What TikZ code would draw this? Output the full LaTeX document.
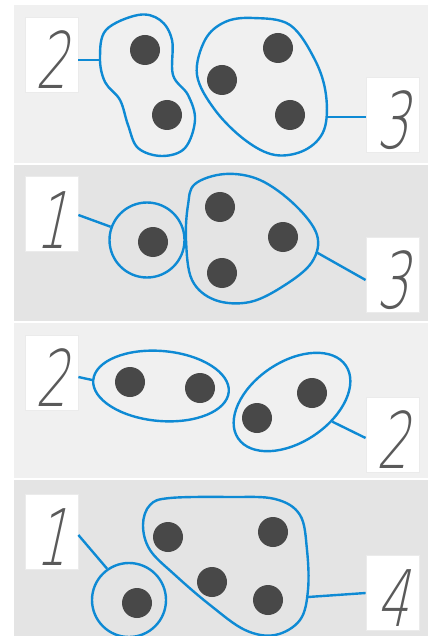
\documentclass[tikz,border=0pt]{standalone}
\usepackage{fontspec}
\usetikzlibrary{shapes.geometric}
\IfFontExistsTF{DejaVu Sans ExtraLight}
  {\newfontfamily\handfont{DejaVu Sans ExtraLight}[FakeSlant=0.22,FakeStretch=0.64]}
  {\IfFontExistsTF{Fira Sans Light}
     {\newfontfamily\handfont{Fira Sans Light}[FakeSlant=0.15,FakeStretch=0.66]}
     {\newfontfamily\handfont{Liberation Sans}[FakeSlant=0.2,FakeStretch=0.66]}}
\definecolor{blobblue}{RGB}{14,138,212}
\definecolor{dotgray}{RGB}{72,72,72}
\definecolor{digitgray}{RGB}{90,90,90}
\definecolor{panelA}{RGB}{240,240,240}
\definecolor{panelB}{RGB}{228,228,228}
\tikzset{
  blob/.style={draw=blobblue, line width=2.4pt},
  link/.style={draw=blobblue, line width=2.4pt},
  dot/.style={circle, fill=dotgray, minimum size=30pt, inner sep=0pt},
  numbox/.style={fill=white, draw=black!8, line width=0.8pt, minimum width=53pt, minimum height=75pt, inner sep=0pt,
    text height=68pt, text depth=0pt,
    font=\handfont\fontsize{78}{78}\selectfont, text=digitgray},
}
\begin{document}
\begin{tikzpicture}[x=1pt,y=-1pt]
\useasboundingbox (0,0) rectangle (428,636);
\fill[white] (0,0) rectangle (428,636);
% panels
\fill[panelA] (14,5) rectangle (428,163);
\fill[panelB] (14,165) rectangle (428,321);
\fill[panelA] (14,323) rectangle (428,478);
\fill[panelB] (14,480) rectangle (428,636);

% ---------- panel 1 ----------
\node[numbox] (p1l) at (51.5,54.5) {2};
\node[numbox] (p1r) at (392.5,114.5) {3};
\draw[blob] plot[smooth cycle, tension=0.6] coordinates {(138,15) (160,20) (172,40) (173,75) (188,95) (195,120) (185,148) (162,156) (138,148) (128,125) (120,100) (105,82) (100,58) (106,30)};
\draw[blob] plot[smooth cycle, tension=0.6] coordinates {(253,18) (290,25) (315,60) (326,95) (324,130) (305,150) (275,155) (245,140) (215,110) (197,75) (205,40) (225,22)};
\coordinate (p1a) at (100,60);
\coordinate (p1b) at (326,117);
\draw[link] (p1l.east |- p1a) -- (p1a);
\draw[link] (p1b) -- (p1r.west |- p1b);
\node[dot] (d11) at (145,50) {};
\node[dot] (d12) at (167,115) {};
\node[dot] (d13) at (278,48) {};
\node[dot] (d14) at (222,80) {};
\node[dot] (d15) at (290,115) {};

% ---------- panel 2 ----------
\node[numbox] (p2l) at (51.5,214) {1};
\node[numbox] (p2r) at (392.5,274.5) {3};
\node[draw=blobblue, line width=2.4pt, circle, minimum size=75pt, inner sep=0pt] (c2) at (147,240) {};
\draw[blob] plot[smooth cycle, tension=0.6] coordinates {(195,184) (225,174) (260,180) (295,205) (317,235) (312,262) (285,285) (250,302) (215,300) (192,280) (186,240) (188,205)};
\coordinate (p2b) at (316,252);
\draw[link] (p2l.east |- 0,215) -- (c2.160);
\draw[link] (p2b) -- (p2r.west |- 0,280);
\node[dot] (d21) at (153,242) {};
\node[dot] (d22) at (220,207) {};
\node[dot] (d23) at (283,237) {};
\node[dot] (d24) at (222,273) {};

% ---------- panel 3 ----------
\node[numbox] (p3l) at (51.5,372.5) {2};
\node[numbox] (p3r) at (392.5,434.5) {2};
\node[draw=blobblue, line width=2.4pt, ellipse, minimum width=136pt, minimum height=70pt, inner sep=0pt, rotate=-5] (e31) at (161,386) {};
\node[draw=blobblue, line width=2.4pt, ellipse, minimum width=130pt, minimum height=80pt, inner sep=0pt, rotate=34] (e32) at (292,402) {};
\draw[link] (p3l.east |- 0,377) -- (e31.west);
\draw[link] (e32.-60) -- (p3r.west |- 0,438);
\node[dot] (d31) at (130,382) {};
\node[dot] (d32) at (200,388) {};
\node[dot] (d33) at (257,418) {};
\node[dot] (d34) at (312,393) {};

% ---------- panel 4 ----------
\node[numbox] (p4l) at (51.5,531.5) {1};
\node[numbox] (p4r) at (392.5,592.5) {4};
\node[draw=blobblue, line width=2.4pt, circle, minimum size=74pt, inner sep=0pt] (c4) at (129,600) {};
\draw[blob] plot[smooth cycle, tension=0.6] coordinates {(170,498) (230,497) (275,499) (300,515) (307,550) (308,590) (300,620) (275,635) (245,630) (210,605) (175,575) (150,550) (143,525) (150,505)};
\coordinate (p4b) at (308,597);
\draw[link] (p4l.east |- 0,535) -- (c4.125);
\draw[link] (p4b) -- (p4r.west |- 0,593);
\node[dot] (d41) at (137,603) {};
\node[dot] (d42) at (168,537) {};
\node[dot] (d43) at (273,532) {};
\node[dot] (d44) at (212,582) {};
\node[dot] (d45) at (268,600) {};
\end{tikzpicture}
\end{document}
